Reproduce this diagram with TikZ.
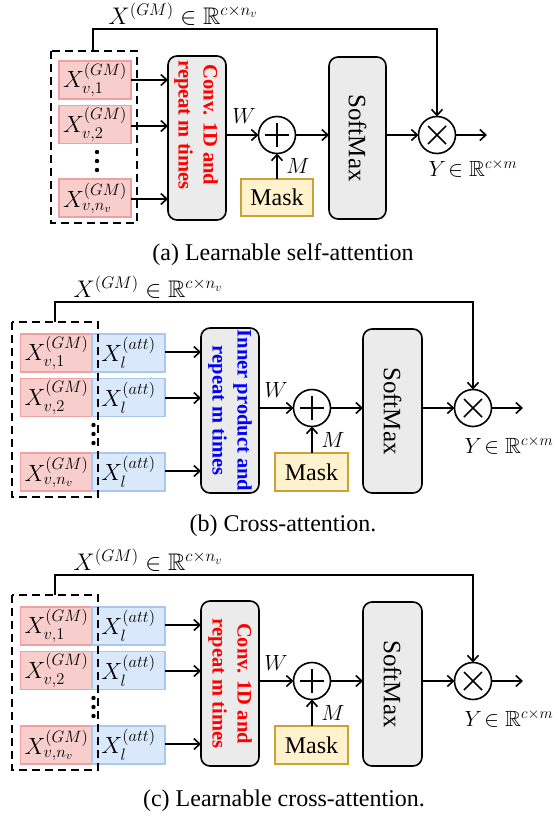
\RequirePackage{fix-cm}
\documentclass[tikz,border=0pt]{standalone}
\usepackage{amssymb}
\usepackage{fontspec}
\setmainfont{Liberation Serif}
\usetikzlibrary{arrows.meta}
\definecolor{gmfill}{HTML}{F8CECC}
\definecolor{gmdraw}{HTML}{F0A0A0}
\definecolor{attfill}{HTML}{DAE8FC}
\definecolor{attdraw}{HTML}{A9C8EC}
\definecolor{maskfill}{HTML}{FFF2CC}
\definecolor{maskdraw}{HTML}{C9A33A}
\definecolor{procfill}{HTML}{EBEBEB}
\definecolor{txtred}{RGB}{255,0,0}
\definecolor{txtblue}{RGB}{0,0,255}
\newcommand\fsBox{\fontsize{23.5}{28}\selectfont}
\newcommand\fsLbl{\fontsize{22}{26}\selectfont}
\newcommand\fsTop{\fontsize{24}{28}\selectfont}
\newcommand\fsMask{\fontsize{24}{29}\selectfont}
\newcommand\fsSoft{\fontsize{25}{30}\selectfont}
\newcommand\fsBold{\fontsize{20.5}{25}\selectfont\bfseries}
\newcommand\fsCap{\fontsize{24}{29}\selectfont}
\tikzset{
 every node/.style={inner sep=0pt,outer sep=0pt},
 arr/.style={line width=1.6pt,-{Straight Barb[length=6pt,width=11pt,line width=1.6pt]}},
 ln/.style={line width=1.6pt},
 gmbox/.style={draw=gmdraw,fill=gmfill,line width=1.2pt,minimum width=72pt,minimum height=38pt,font=\fsBox},
 attbox/.style={draw=attdraw,fill=attfill,line width=1.2pt,minimum width=73pt,minimum height=38pt,font=\fsBox},
 procbox/.style={draw,fill=procfill,rounded corners=9pt,line width=1.6pt},
 maskbox/.style={draw=maskdraw,fill=maskfill,line width=1.4pt,minimum width=72pt,minimum height=37pt,font=\fsMask},
 opnode/.style={circle,draw,line width=1.6pt,minimum size=37pt},
 dbox/.style={line width=2pt,dash pattern=on 8pt off 5pt},
 rottxt/.style={rotate=-90,align=center,font=\fsBold},
 softtxt/.style={rotate=-90,font=\fsSoft},
 lbl/.style={font=\fsLbl},
 toplbl/.style={font=\fsTop},
 captxt/.style={font=\fsCap},
}
\newcommand\crosspanel[5]{%
 \begin{scope}[yshift=-#2pt]
 \node[gmbox] (#1g1) at (56.5,353) {$X^{(GM)}_{v,1}$};
 \node[attbox] (#1a1) at (128.5,353) {$X^{(att)}_{l}$};
 \node[gmbox] (#1g2) at (56.5,397.5) {$X^{(GM)}_{v,2}$};
 \node[attbox] (#1a2) at (128.5,397.5) {$X^{(att)}_{l}$};
 \node[gmbox] (#1g3) at (56.5,472) {$X^{(GM)}_{v,n_v}$};
 \node[attbox] (#1a3) at (128.5,472) {$X^{(att)}_{l}$};
 \fill (93.5,425) circle (2.2pt) (93.5,434) circle (2.2pt) (93.5,443) circle (2.2pt);
 \draw[dbox] (12,322) rectangle (98,497);
 \coordinate (#1tl) at (55,322);
 \node[procbox,minimum width=58pt,minimum height=165pt] (#1p) at (230,410.5) {};
 \node[rottxt,text=#3] (#1pt) at (230,410.5) {#4\\#5};
 \node[opnode] (#1plus) at (312,408) {};
 \draw[ln] ([xshift=-12pt]#1plus.center) -- ([xshift=12pt]#1plus.center)
           ([yshift=-12pt]#1plus.center) -- ([yshift=12pt]#1plus.center);
 \node[maskbox,minimum width=73pt,minimum height=38pt] (#1mask) at (311.5,472) {Mask};
 \node[procbox,minimum width=59pt,minimum height=164pt] (#1soft) at (392.5,411) {};
 \node[softtxt] (#1softt) at (392.5,411) {SoftMax};
 \node[opnode] (#1times) at (473,408) {};
 \draw[ln] ([shift={(-9pt,-9pt)}]#1times.center) -- ([shift={(9pt,9pt)}]#1times.center)
           ([shift={(-9pt,9pt)}]#1times.center) -- ([shift={(9pt,-9pt)}]#1times.center);
 \coordinate (#1out) at (523,408);
 \draw[arr] (#1a1.east |- 0,352) -- (#1p.west |- 0,352);
 \draw[arr] (#1a2.east |- 0,398) -- (#1p.west |- 0,398);
 \draw[arr] (#1a3.east |- 0,471) -- (#1p.west |- 0,471);
 \draw[arr] (#1p.east |- #1plus.west) -- (#1plus.west);
 \draw[arr] (#1plus.south |- #1mask.north) -- (#1plus.south);
 \draw[arr] (#1plus.east) -- (#1soft.west |- #1plus.east);
 \draw[arr] (#1soft.east |- #1times.west) -- (#1times.west);
 \draw[arr] (#1times.east) -- (#1out);
 \draw[arr] (#1tl) -- ++(0,-20) -| (#1times.north);
 \node[toplbl] (#1lx) at (148,287) {$X^{(GM)}\in\mathbb{R}^{c\times n_v}$};
 \node[lbl] (#1lw) at (276,390) {$W$};
 \node[lbl] (#1lm) at (333,440) {$M$};
 \node[lbl] (#1ly) at (509,445) {$Y\!\in\mathbb{R}^{c\times m}$};
 \end{scope}}
\begin{document}
\begin{tikzpicture}[x=1pt,y=-1pt]
\useasboundingbox (0,0) rectangle (558,817);
% ---------- panel (a)
\node[gmbox] (ag1) at (95,80) {$X^{(GM)}_{v,1}$};
\node[gmbox] (ag2) at (95,124.5) {$X^{(GM)}_{v,2}$};
\node[gmbox] (ag3) at (95,198) {$X^{(GM)}_{v,n_v}$};
\fill (97,152) circle (2.2pt) (97,161) circle (2.2pt) (97,170) circle (2.2pt);
\draw[dbox] (51,51) rectangle (137,223);
\coordinate (atl) at (93,51);
\node[procbox,minimum width=58pt,minimum height=164pt] (ap) at (197,138) {};
\node[rottxt,text=txtred] (apt) at (196,125) {Conv. 1D and\\repeat m times};
\node[opnode] (aplus) at (277,135) {};
\draw[ln] ([xshift=-12pt]aplus.center) -- ([xshift=12pt]aplus.center)
          ([yshift=-12pt]aplus.center) -- ([yshift=12pt]aplus.center);
\node[maskbox] (amask) at (277,197.5) {Mask};
\node[procbox,minimum width=57pt,minimum height=162pt] (asoft) at (357.5,138) {};
\node[softtxt] (asoftt) at (357.5,138) {SoftMax};
\node[opnode] (atimes) at (437,135) {};
\draw[ln] ([shift={(-9pt,-9pt)}]atimes.center) -- ([shift={(9pt,9pt)}]atimes.center)
          ([shift={(-9pt,9pt)}]atimes.center) -- ([shift={(9pt,-9pt)}]atimes.center);
\coordinate (aout) at (487,135);
\draw[arr] (ag1.east |- 0,80) -- (ap.west |- 0,80);
\draw[arr] (ag2.east |- 0,126) -- (ap.west |- 0,126);
\draw[arr] (ag3.east |- 0,199) -- (ap.west |- 0,199);
\draw[arr] (ap.east |- aplus.west) -- (aplus.west);
\draw[arr] (amask.north) -- (aplus.south);
\draw[arr] (aplus.east) -- (asoft.west |- aplus.east);
\draw[arr] (asoft.east |- atimes.west) -- (atimes.west);
\draw[arr] (atimes.east) -- (aout);
\draw[arr] (atl) -- ++(0,-22) -| (atimes.north);
\node[toplbl] (alx) at (183,14) {$X^{(GM)}\in\mathbb{R}^{c\times n_v}$};
\node[lbl] (alw) at (244,116) {$W$};
\node[lbl] (alm) at (298,166) {$M$};
\node[lbl] (aly) at (473,168) {$Y\!\in\mathbb{R}^{c\times m}$};
\node[captxt] (acap) at (283,255) {(a) Learnable self-attention};
% ---------- panel (b)
\crosspanel{b}{0}{txtblue}{Inner product and}{repeat m times}
\node[captxt] (bcap) at (283,526) {(b) Cross-attention.};
% ---------- panel (c)
\crosspanel{c}{273}{txtred}{Conv. 1D and}{repeat m times}
\node[captxt] (ccap) at (284,801) {(c) Learnable cross-attention.};
\end{tikzpicture}
\end{document}
